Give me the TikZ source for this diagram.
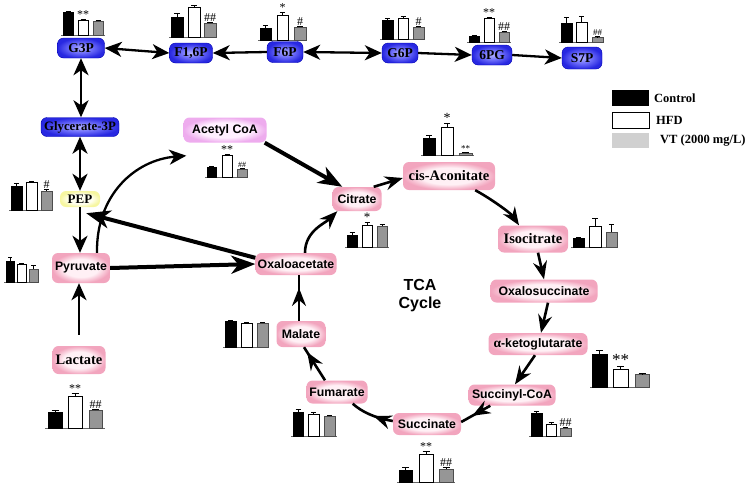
\documentclass[tikz,border=0pt]{standalone}
\usepackage{fontspec}
\setmainfont{Liberation Serif}
\newfontfamily\sansf{Liberation Sans}
\usetikzlibrary{arrows.meta,calc,decorations.markings}
\definecolor{bluein}{RGB}{175,175,255}
\definecolor{bluemid}{RGB}{110,110,250}
\definecolor{blueout}{RGB}{40,40,225}
\definecolor{pinkin}{RGB}{255,240,245}
\definecolor{pinkout}{RGB}{242,165,190}
\definecolor{magin}{RGB}{255,240,255}
\definecolor{magout}{RGB}{238,172,238}
\definecolor{yelin}{RGB}{255,255,240}
\definecolor{yelout}{RGB}{246,246,160}
\definecolor{bargrey}{RGB}{150,150,150}
\definecolor{leggrey}{RGB}{208,208,208}
\pgfdeclareradialshading{pinkglow}{\pgfpoint{0bp}{0bp}}{color(0bp)=(pinkin); color(15bp)=(pinkin); color(25bp)=(pinkout); color(50bp)=(pinkout)}
\pgfdeclareradialshading{magglow}{\pgfpoint{0bp}{0bp}}{color(0bp)=(magin); color(15bp)=(magin); color(25bp)=(magout); color(50bp)=(magout)}
\pgfdeclareradialshading{yelglow}{\pgfpoint{0bp}{0bp}}{color(0bp)=(yelin); color(15bp)=(yelin); color(25bp)=(yelout); color(50bp)=(yelout)}
\pgfdeclareradialshading{blueglow}{\pgfpoint{0bp}{0bp}}{color(0bp)=(bluein); color(12bp)=(bluemid); color(25bp)=(blueout); color(50bp)=(blueout)}
\newcommand{\onebar}[8]{%
  \draw[#6] (#1,#2) rectangle ({#1+#3},{#2-#4});
  \draw[errbar] ({#1+#3/2},{#2-#4}) -- ({#1+#3/2},{#2-#4-#5})
    ({#1+#3*0.25},{#2-#4-#5}) -- ({#1+#3*0.75},{#2-#4-#5});
  \node[starlab] (#8) at ({#1+#3/2},{#2-#4-#5}) {#7};
}
\newcommand{\baseln}[3]{\draw[axisl] (#1,#3) -- (#2,#3);}
\tikzset{
  bk/.style={fill=black, draw=black, line width=0.6pt},
  wt/.style={fill=white, draw=black, line width=0.8pt},
  gy/.style={fill=bargrey, draw=black!70, line width=0.6pt},
  errbar/.style={draw=black, line width=0.6pt},
  axisl/.style={draw=black!60, line width=0.6pt},
  starlab/.style={anchor=south, inner sep=0.4pt, font=\fontsize{12}{12}\selectfont},
  sz/.style 2 args={minimum width=#1pt, minimum height=#2pt},
  basebox/.style={rounded corners=6pt, inner sep=0pt, align=center},
  serf/.style={font=\fontsize{14.5}{15}\selectfont\bfseries},
  sanf/.style={font=\sansf\fontsize{12.3}{13}\selectfont\bfseries},
  bluebox/.style={basebox, shading=blueglow, draw=blue!70!black, line width=0.4pt,
     font=\fontsize{13.5}{14}\selectfont\bfseries},
  pinkbox/.style={basebox, shading=pinkglow},
  magbox/.style={basebox, shading=magglow},
  yelbox/.style={basebox, shading=yelglow, font=\fontsize{13}{14}\selectfont\bfseries},
  gtip/.style={arrows={-Stealth[length=17pt,width=15pt,inset=5pt]}},
  gboth/.style={arrows={Stealth[length=17pt,width=15pt,inset=5pt]-Stealth[length=17pt,width=15pt,inset=5pt]}},
  glarr/.style={line width=2.3pt},
  thickarr/.style={line width=4pt, arrows={-Stealth[length=24pt,width=18pt,inset=7pt]}},
  tca/.style={line width=2.6pt},
  tcatip/.style={arrows={-Stealth[length=18pt,width=14pt,inset=6pt]}},
  midarr/.style={postaction={decorate}, decoration={markings,
     mark=at position #1 with {\arrow{Stealth[length=18pt,width=14pt,inset=6pt]}}}},
  legtext/.style={anchor=west, inner sep=0pt, font=\fontsize{12.5}{13}\selectfont\bfseries},
}
\begin{document}
\begin{tikzpicture}[x=1pt,y=-1pt]
\useasboundingbox (0,0) rectangle (750,488);

% ---------- nodes ----------
\node[bluebox, sz={47}{20}] (g3p) at (81,48) {G3P};
\node[bluebox, sz={43}{20}] (f16p) at (191,53) {F1,6P};
\node[bluebox, sz={36}{21}] (f6p) at (285,52) {F6P};
\node[bluebox, sz={36}{20}] (g6p) at (400,53) {G6P};
\node[bluebox, sz={40}{20}] (pg6) at (492,55) {6PG};
\node[bluebox, sz={40}{22}] (s7p) at (582,58) {S7P};
\node[bluebox, sz={78}{19}, font=\fontsize{12.8}{13}\selectfont\bfseries] (gly3p) at (80,127) {Glycerate-3P};
\node[yelbox, sz={40}{16}] (pep) at (80,199) {PEP};
\node[pinkbox, sanf, sz={58}{30}] (pyr) at (81,268) {Pyruvate};
\node[pinkbox, serf, sz={53}{28}] (lac) at (79,360) {Lactate};
\node[magbox, sanf, sz={83}{25}] (acoa) at (225,130) {Acetyl CoA};
\node[pinkbox, sanf, sz={49}{24}] (cit) at (357,199) {Citrate};
\node[pinkbox, sanf, sz={81}{22}] (oaa) at (296,264) {Oxaloacetate};
\node[pinkbox, serf, sz={92}{28}] (cis) at (449,176) {cis-Aconitate};
\node[pinkbox, serf, sz={70}{27}] (iso) at (533,239) {Isocitrate};
\node[pinkbox, sanf, sz={107}{23}] (oxs) at (544,291) {Oxalosuccinate};
\node[pinkbox, sanf, sz={99}{22}] (akg) at (538,344) {{\rmfamily\fontsize{13.5}{13}\selectfont α}-ketoglutarate};
\node[pinkbox, sanf, sz={87}{21}] (sca) at (512,395) {Succinyl-CoA};
\node[pinkbox, sanf, sz={68}{22}] (suc) at (427,424) {Succinate};
\node[pinkbox, sanf, sz={61}{23}] (fum) at (337,392) {Fumarate};
\node[pinkbox, sanf, sz={49}{26}] (mal) at (301,334) {Malate};
\node[align=center, font=\sansf\fontsize{16}{18}\selectfont\bfseries] (tcac) at (420,296) {TCA\\Cycle};

% ---------- glycolysis / pentose arrows ----------
\draw[glarr, gboth] (g3p.east) -- (f16p.west);
\draw[glarr, gtip] (f6p.west) -- (f16p.east);
\draw[glarr, gboth] (f6p.east) -- (g6p.west);
\draw[glarr, gtip] (g6p.east) -- (pg6.west);
\draw[glarr, gtip] (pg6.east) -- (s7p.west);
\draw[glarr, gboth] (g3p.south) -- (gly3p.north -| g3p.south);
\draw[glarr, gboth] (gly3p.south) -- (pep.north);
\draw[glarr, gtip] (pep.south) -- (pyr.north -| pep.south);
\coordinate (lacstart) at ($(lac.north)+(0,-11)$);
\draw[glarr, gtip] (lacstart) -- (pyr.south -| lacstart);
\coordinate (acend) at ($(acoa.south west)+(3,13)$);
\draw[glarr, gtip] ($(pyr.north)+(16,0)$) .. controls (96,195) and (135,160) .. (acend);

% ---------- thick arrows ----------
\draw[thickarr] (pyr.east) -- (oaa.west);
\coordinate (pepend) at ($(pep.south east)+(-14,6)$);
\draw[thickarr] ($(oaa.north west)+(0,5)$) -- (pepend);
\draw[thickarr] ($(acoa.south east)+(-2,0)$) -- ($(cit.north west)+(10,0)$);

% ---------- TCA arrows ----------
\draw[tca, tcatip] ($(oaa.north)+(9,0)$) .. controls +(0,-22) and +(-12,12) .. ($(cit.south west)+(5,0)$);
\draw[tca, tcatip] ($(cit.north east)+(-8,0)$) -- ($(cis.west)+(0,2)$);
\draw[tca, tcatip] ($(cis.south east)+(-20,0)$) .. controls +(15,8) and +(-8,-12) .. ($(iso.north)+(-14,0)$);
\draw[tca, tcatip] ($(iso.south)+(5,0)$) -- (oxs.north);
\draw[tca, tcatip] ($(oxs.south)+(4,0)$) -- ($(akg.north)+(3,0)$);
\draw[tca, tcatip] ($(akg.south)+(-3,0)$) -- ($(sca.north)+(3,0)$);
\draw[tca, midarr=0.62] ($(sca.south west)+(22,0)$) -- ($(suc.east)+(0,-2)$);
\draw[tca, midarr=0.45] ($(suc.west)+(0,-3)$) .. controls (375,418) and (362,412) .. ($(fum.south east)+(-15,0)$);
\draw[tca, midarr=0.85] ($(fum.north)+(-12,0)$) -- ($(mal.south)+(3,0)$);
\draw[tca, midarr=0.72] ($(mal.north)+(-2,0)$) -- ($(oaa.south)+(3,0)$);

% ---------- bar charts ----------
% G3P
\baseln{61}{105}{35}
\onebar{63}{35}{10}{23}{1}{bk}{}{b1a}\onebar{78}{35}{10}{15}{1}{wt}{**}{b1b}\onebar{93}{35}{10}{14}{1}{gy}{}{b1c}
% F1,6P
\baseln{169}{217}{37}
\onebar{171}{37}{12}{20}{4}{bk}{}{b2a}\onebar{188}{37}{12}{30}{2}{wt}{}{b2b}\onebar{204}{37}{12}{14}{1}{gy}{\#\#}{b2c}
% F6P
\baseln{258}{307}{40}
\onebar{260}{40}{11}{12}{3}{bk}{}{b3a}\onebar{277}{40}{11}{25}{3}{wt}{*}{b3b}\onebar{294}{40}{12}{13}{1}{gy}{\#}{b3c}
% G6P
\baseln{380}{425}{39}
\onebar{382}{39}{11}{19}{2}{bk}{}{b4a}\onebar{398}{39}{10}{21}{2}{wt}{}{b4b}\onebar{413}{39}{11}{12}{1}{gy}{\#}{b4c}
% 6PG
\baseln{467}{511}{42}
\onebar{469}{42}{10}{6}{1}{bk}{}{b5a}\onebar{484}{42}{10}{24}{1}{wt}{**}{b5b}\onebar{499}{42}{10}{10}{1}{gy}{\#\#}{b5c}
% S7P
\baseln{559}{604}{42}
\onebar{561}{42}{11}{19}{6}{bk}{}{b6a}\onebar{576}{42}{11}{20}{6}{wt}{}{b6b}\onebar{592}{42}{11}{5}{0.5}{gy}{\fontsize{9}{9}\selectfont\#\#}{b6c}
% PEP
\baseln{9}{53}{210}
\onebar{11}{210}{11}{24}{3}{bk}{}{b7a}\onebar{26}{210}{11}{28}{1}{wt}{}{b7b}\onebar{41}{210}{11}{19}{2}{gy}{\#}{b7c}
% Pyruvate
\baseln{4}{39}{282}
\onebar{6}{282}{8}{21}{4}{bk}{}{b8a}\onebar{17}{282}{9}{18}{1}{wt}{}{b8b}\onebar{29}{282}{9}{13}{4}{gy}{}{b8c}
% Lactate
\baseln{45}{105}{428}
\onebar{48}{428}{14}{16}{2}{bk}{}{b9a}\onebar{68}{428}{14}{32}{3}{wt}{**}{b9b}\onebar{89}{428}{13}{18}{1}{gy}{\#\#}{b9c}
% Acetyl CoA
\baseln{205}{248}{177}
\onebar{207}{177}{9}{10}{1}{bk}{}{b10a}\onebar{222}{177}{10}{22}{1}{wt}{**}{b10b}\onebar{237}{177}{10}{8}{1}{gy}{\fontsize{8}{8}\selectfont\#\#}{b10c}
% Citrate
\baseln{345}{389}{247}
\onebar{347}{247}{10}{12}{3}{bk}{}{b11a}\onebar{362}{247}{10}{22}{3}{wt}{\fontsize{13}{13}\selectfont *}{b11b}\onebar{377}{247}{10}{21}{2}{gy}{}{b11c}
% cis-Aconitate
\baseln{421}{474}{155}
\onebar{423}{155}{12}{17}{3}{bk}{}{b12a}\onebar{441}{155}{12}{28}{4}{wt}{\fontsize{14}{14}\selectfont *}{b12b}\onebar{459}{155}{13}{2}{1}{gy}{\fontsize{9}{9}\selectfont **}{b12c}
% Isocitrate
\baseln{571}{618}{247}
\onebar{573}{247}{11}{9}{1}{bk}{}{b13a}\onebar{589}{247}{12}{21}{8}{wt}{}{b13b}\onebar{606}{247}{11}{15}{8}{gy}{}{b13c}
% alpha-KG
\baseln{590}{650}{387}
\onebar{592}{387}{15}{33}{4}{bk}{}{b14a}\onebar{613}{387}{15}{18}{3}{wt}{\fontsize{17}{17}\selectfont **}{b14b}\onebar{635}{387}{14}{13}{0.5}{gy}{}{b14c}
% Succinyl-CoA
\baseln{529}{572}{436}
\onebar{531}{436}{11}{23}{2}{bk}{}{b15a}\onebar{546}{436}{10}{12}{2}{wt}{}{b15b}\onebar{560}{436}{11}{8}{1}{gy}{\#\#}{b15c}
% Succinate
\baseln{397}{455}{482}
\onebar{399}{482}{13}{12}{3}{bk}{}{b16a}\onebar{419}{482}{14}{28}{3}{wt}{**}{b16b}\onebar{439}{482}{14}{13}{2}{gy}{\#\#}{b16c}
% Fumarate
\baseln{291}{337}{436}
\onebar{293}{436}{10}{24}{3}{bk}{}{b17a}\onebar{308}{436}{11}{22}{2}{wt}{}{b17b}\onebar{324}{436}{11}{20}{1}{gy}{}{b17c}
% Malate
\baseln{223}{269}{347}
\onebar{225}{347}{11}{26}{1}{bk}{}{b18a}\onebar{241}{347}{11}{24}{1}{wt}{}{b18b}\onebar{257}{347}{11}{24}{1}{gy}{}{b18c}

% ---------- legend ----------
\fill[black] (612,90) rectangle (649,106);
\draw[fill=white, draw=black, line width=0.8pt] (612,112) rectangle (649,128);
\fill[leggrey] (612,133) rectangle (649,148);
\node[legtext] (lg1) at (654,98) {Control};
\node[legtext] (lg2) at (656,120) {HFD};
\node[legtext] (lg3) at (660,141) {VT (2000 mg/L)};
\end{tikzpicture}
\end{document}
